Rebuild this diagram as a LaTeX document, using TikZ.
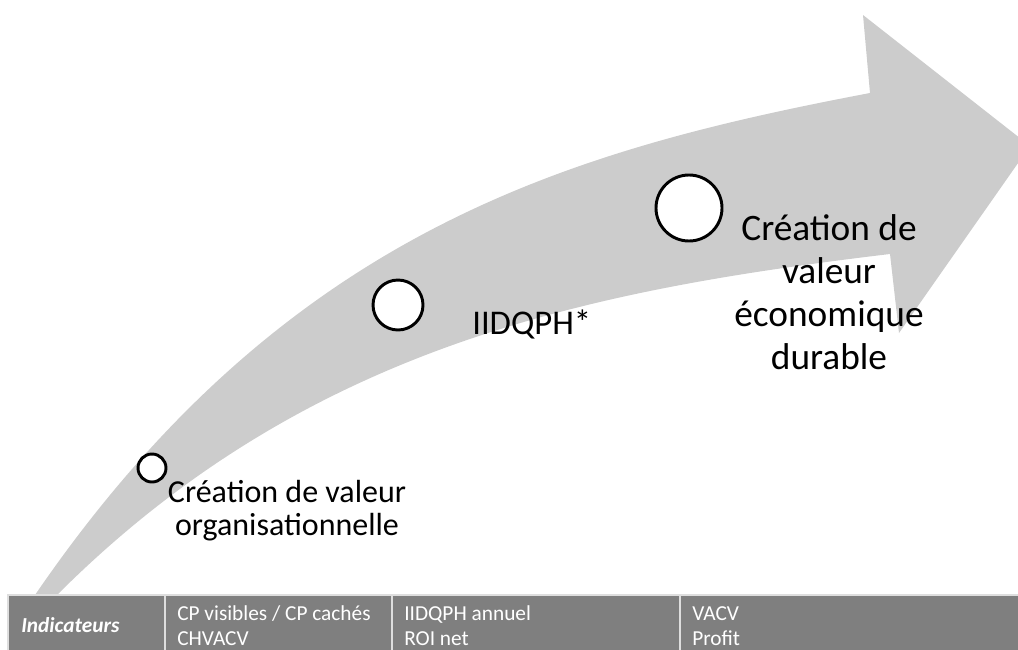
\documentclass[tikz,border=0pt]{standalone}
\usepackage{fontspec}
\setmainfont{Carlito}
\usepackage{xcolor}
\definecolor{Col1}{RGB}{204,204,204}
\definecolor{Col2}{RGB}{127,127,127}
\definecolor{Col3}{RGB}{222,222,222}
\usepackage{tikz}
\tikzstyle{Stage}=[circle,draw=black,fill=white,line width=2.2pt,inner sep=0pt]
\tikzstyle{Label}=[align=center,text=black,inner sep=0pt]
\tikzstyle{Cell}=[anchor=base west,text=white,inner sep=0pt,
    font=\fontsize{16}{19}\selectfont]
\tikzstyle{Rule}=[draw=Col3,line width=1.2pt]

\begin{document}
\begin{tikzpicture}[x=0.75pt,y=-0.75pt]
            \clip(0,0)rectangle(1018,650);
            % big curved arrow
            \fill[Col1](30,602)--(35,595)
                ..controls(285,230)and(570,150)..(870,93)
                --(863,15)--(1030,146)--(899,333)--(890,254)
                ..controls(590,290)and(307,345)..(57,595)
                --(50,602)--cycle;
            \node[Stage,minimum size=21pt](1)at(152,468){};
            \node[Stage,minimum size=37.5pt](2)at(398,305){};
            \node[Stage,minimum size=49.5pt](3)at(689,208){};
            \node[Label,font=\fontsize{24}{24.75}\selectfont](l1)
                at(287,511){Création de valeur\\organisationnelle};
            \node[Label,anchor=base west,font=\fontsize{26}{30}\selectfont](l2)
                at(472,334){IIDQPH*};
            \node[Label,font=\fontsize{28}{32.25}\selectfont](l3)
                at(829,292){Création de\\valeur\\économique\\durable};
            %
            \fill[Col2](8,595)rectangle(1030,660);
            \draw[Rule](8,660)--(8,595)--(1030,595);
            \draw[Rule](165,595)--(165,660);
            \draw[Rule](392,595)--(392,660);
            \draw[Rule](680,595)--(680,660);
            \node[Cell,font=\bfseries\itshape\fontsize{16}{19}\selectfont](ind)
                at(21,632){Indicateurs};
            \node[Cell](c1a)at(177,620){CP visibles / CP cachés};
            \node[Cell](c1b)at(177,645){CHVACV};
            \node[Cell](c2a)at(404,620){IIDQPH annuel};
            \node[Cell](c2b)at(404,645){ROI net};
            \node[Cell](c3a)at(692,620){VACV};
            \node[Cell](c3b)at(692,645){Profit};
        \end{tikzpicture}
\end{document}
